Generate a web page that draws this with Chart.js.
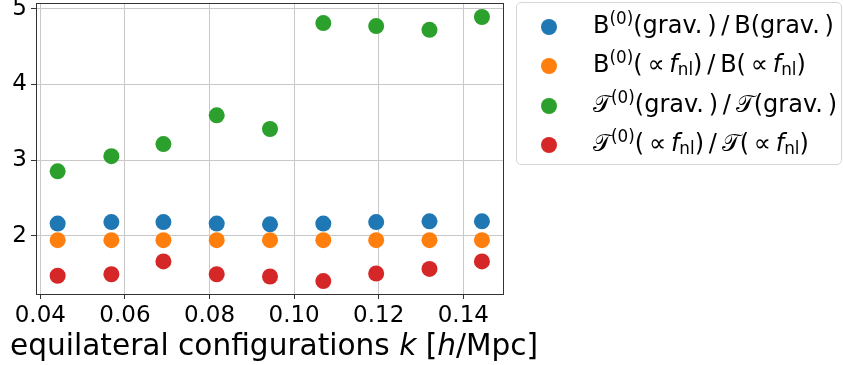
<!DOCTYPE html>
<html>
<head>
<meta charset="utf-8">
<script src="https://cdn.jsdelivr.net/npm/chart.js@4.4.1/dist/chart.umd.min.js"></script>
<style>
  html, body { margin: 0; padding: 0; background: #fff; }
  #wrap { position: relative; width: 843px; height: 365px; font-family: "DejaVu Sans", sans-serif; }
  #legend {
    position: absolute; left: 516px; top: 2px; width: 326px; height: 163px;
    border: 1px solid #d6d6d6; border-radius: 5px; box-sizing: border-box;
  }
  .item { position: absolute; left: 0; height: 30px; line-height: 30px; font-size: 24px; white-space: nowrap; color: #000; }
  .dot { position: absolute; left: 24px; top: 7px; width: 16px; height: 16px; border-radius: 50%; }
  .txt { position: absolute; left: 76px; top: -2px; }
  sup { font-size: 0.7em; vertical-align: 0.55em; line-height: 0; }
  sub { font-size: 0.7em; vertical-align: -0.2em; line-height: 0; }
  i { font-style: oblique; }
  #xtitle { position: absolute; left: 10px; top: 328px; font-size: 29.6px; line-height: 35px; white-space: nowrap; color: #000; }
</style>
</head>
<body>
<div id="wrap">
  <canvas id="myCanvas" width="843" height="365"></canvas>
  <div id="legend"></div>
  <div id="xtitle">equilateral configurations <i>k</i> [<i>h</i>/Mpc]</div>
</div>
<script>
const kValues = [0.0441, 0.0568, 0.0691, 0.0817, 0.0943, 0.1069, 0.1194, 0.1320, 0.1444];
const bGrav = [2.16, 2.18, 2.18, 2.16, 2.15, 2.16, 2.18, 2.19, 2.19];
const bFnl = [1.94, 1.94, 1.94, 1.94, 1.94, 1.94, 1.94, 1.94, 1.94];
const tGrav = [2.85, 3.05, 3.21, 3.59, 3.41, 4.81, 4.77, 4.72, 4.89];
const tFnl = [1.47, 1.49, 1.66, 1.49, 1.46, 1.40, 1.50, 1.56, 1.66];
const xTicks = [0.04, 0.06, 0.08, 0.10, 0.12, 0.14];
const yTicks = [2, 3, 4, 5];

const seriesNames = [
   'B<sup>(0)</sup>(grav.&thinsp;)&thinsp;/&thinsp;B(grav.&thinsp;)',
   'B<sup>(0)</sup>(&thinsp;∝&thinsp;<i>f</i><sub>nl</sub>)&thinsp;/&thinsp;B(&thinsp;∝&thinsp;<i>f</i><sub>nl</sub>)',
   '𝒯<sup>(0)</sup>(grav.&thinsp;)&thinsp;/&thinsp;𝒯(grav.&thinsp;)',
   '𝒯<sup>(0)</sup>(&thinsp;∝&thinsp;<i>f</i><sub>nl</sub>)&thinsp;/&thinsp;𝒯(&thinsp;∝&thinsp;<i>f</i><sub>nl</sub>)'
];
const colors = ['#1f77b4', '#ff7f0e', '#2ca02c', '#d62728'];
const series = [bGrav, bFnl, tGrav, tFnl];

const toPoints = vals => vals.map((v, i) => ({ x: kValues[i], y: v }));

// matplotlib-like box around the axes
const frame = {
   id: 'frame',
   afterDraw(chart) {
      const a = chart.chartArea, ctx = chart.ctx;
      ctx.save();
      ctx.strokeStyle = '#333';
      ctx.lineWidth = 1;
      ctx.strokeRect(Math.round(a.left) + 0.5, Math.round(a.top) + 0.5, Math.round(a.right - a.left), Math.round(a.bottom - a.top));
      ctx.restore();
   }
};

const ctx = document.getElementById('myCanvas').getContext('2d');
const chart = new Chart(ctx, {
   type: 'scatter',
   data: {
      datasets: series.map((s, i) => ({
         label: 'series' + i,
         data: toPoints(s),
         backgroundColor: colors[i],
         borderWidth: 0,
         pointRadius: 8,
         pointHoverRadius: 8,
         order: 4 - i
      }))
   },
   options: {
      responsive: false,
      animation: false,
      devicePixelRatio: 1,
      layout: { autoPadding: false, padding: { top: 3, right: 340, left: 0, bottom: 0 } },
      plugins: { legend: { display: false }, tooltip: { enabled: false } },
      scales: {
         x: {
            type: 'linear',
            min: 0.03898,
            max: 0.14938,
            afterBuildTicks: s => { s.ticks = xTicks.map(v => ({ value: v })); },
            afterFit: s => { s.height = 71; s.paddingLeft = 0; s.paddingRight = 0; },
            ticks: {
               callback: v => v.toFixed(2),
               color: '#000',
               font: { family: 'DejaVu Sans', size: 23 },
               padding: 3,
               maxRotation: 0
            },
            grid: { color: '#c8c8c8', lineWidth: 1, tickColor: '#333', tickLength: 5 },
            border: { color: '#333' }
         },
         y: {
            min: 1.229,
            max: 5.075,
            afterBuildTicks: s => { s.ticks = yTicks.map(v => ({ value: v })); },
            afterFit: s => { s.width = 36; s.paddingTop = 0; s.paddingBottom = 0; },
            ticks: {
               color: '#000',
               font: { family: 'DejaVu Sans', size: 23 },
               padding: 4
            },
            grid: { color: '#c8c8c8', lineWidth: 1, tickColor: '#333', tickLength: 5 },
            border: { color: '#333' }
         }
      }
   },
   plugins: [frame]
});

// legend built from the chart datasets
const legend = document.getElementById('legend');
const rowTops = [9, 48, 88, 127];
chart.data.datasets.forEach((ds, i) => {
   const row = document.createElement('div');
   row.className = 'item';
   row.style.top = rowTops[i] + 'px';
   row.innerHTML = '<span class="dot" style="background:' + ds.backgroundColor + '"></span><span class="txt">' + seriesNames[i] + '</span>';
   legend.appendChild(row);
});
</script>
</body>
</html>
